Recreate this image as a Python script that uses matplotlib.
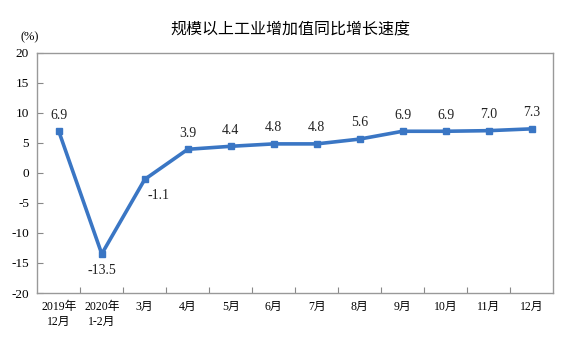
import matplotlib.pyplot as plt

# categories and values
months = ["2019年\n12月", "2020年\n1-2月", "3月", "4月", "5月", "6月",
          "7月", "8月", "9月", "10月", "11月", "12月"]
growth = [6.9, -13.5, -1.1, 3.9, 4.4, 4.8, 4.8, 5.6, 6.9, 6.9, 7.0, 7.3]
yticks = [-20, -15, -10, -5, 0, 5, 10, 15, 20]

LINE = "#3a76c4"
FONT = ["Liberation Serif", "Noto Sans CJK SC", "DejaVu Sans"]
plt.rcParams["font.family"] = FONT

fig = plt.figure(figsize=(5.84, 3.38), dpi=100)
ax = fig.add_axes([37.3 / 584, 1 - 293 / 338, (553 - 37.3) / 584, (293 - 52.5) / 338])

x = list(range(len(months)))
ax.plot(x, growth, color=LINE, linewidth=2.6, marker="s", markersize=5,
        markerfacecolor=LINE, markeredgecolor=LINE)

for i, v in enumerate(growth):
    if v < 0:
        dx = 10 if i == 2 else 0
        ax.annotate(f"{v:.1f}", (i, v), xytext=(dx, -7), textcoords="offset points",
                    ha="center", va="top", fontsize=10, color="#222")
    else:
        ax.annotate(f"{v:.1f}", (i, v), xytext=(0, 7), textcoords="offset points",
                    ha="center", va="bottom", fontsize=10, color="#222")

ax.set_xlim(-0.5, len(months) - 0.5)
ax.set_ylim(-20, 20)
ax.set_yticks(yticks)
ax.set_yticklabels([str(t) for t in yticks], fontsize=9.5)
ax.set_xticks([i + 0.5 for i in range(len(months) - 1)])
ax.set_xticklabels([])
ax.set_xticks(x, minor=True)
ax.set_xticklabels(months, minor=True, fontsize=8.5, linespacing=1.3, va="top")
ax.tick_params(axis="x", which="minor", length=0, pad=6)
ax.tick_params(axis="x", which="major", direction="in", length=4, color="#888")
ax.tick_params(axis="y", direction="in", length=4, color="#888", pad=6)
for sp in ax.spines.values():
    sp.set_color("#999")
    sp.set_linewidth(1)

fig.text(30 / 584, 1 - 37 / 338, "(%)", fontsize=9, ha="center", va="center")
fig.suptitle("规模以上工业增加值同比增长速度", x=290 / 584, y=1 - 30 / 338,
             fontsize=11.5, va="center", fontweight="medium",
             family=["Noto Sans CJK SC", "DejaVu Sans"])

fig.savefig("out.png", dpi=100)
